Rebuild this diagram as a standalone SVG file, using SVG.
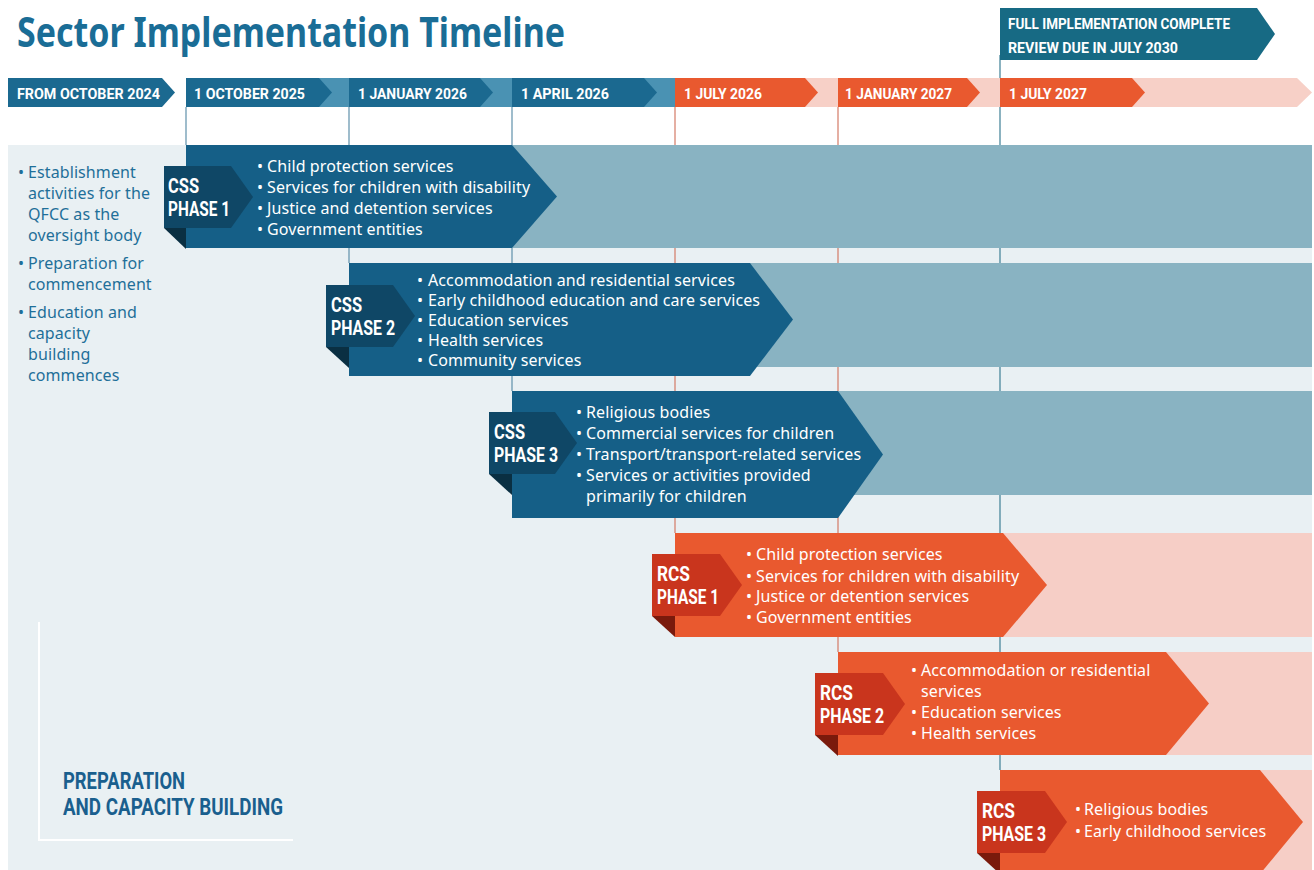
<svg xmlns="http://www.w3.org/2000/svg" width="1314" height="870" viewBox="0 0 1314 870">
<style>
.body{font-family:"Noto Sans","Open Sans",sans-serif;font-size:16px;letter-spacing:0.1px;fill:#ffffff}
.left{font-family:"Noto Sans","Open Sans",sans-serif;font-size:16px;letter-spacing:0.1px;fill:#1f6f99}
.cond{font-family:"Roboto","Liberation Sans",sans-serif;font-weight:700;fill:#ffffff}
.tl{font-size:15px}
.tag{font-size:20px}
.dk{fill:#155f87}
.lt{fill:#89b3c2}
.tagb{fill:#0f4766}
.foldb{fill:#0a2f42}
.or{fill:#e9592f}
.pk{fill:#f6cec6}
.tagr{fill:#c9351d}
.foldr{fill:#7a1a0c}
.vb{stroke:#5f90aa;stroke-width:1.2}
.vo{stroke:#d47a66;stroke-width:1.2}
</style>
<rect x="0" y="0" width="1314" height="870" fill="#ffffff"/>
<rect id="panel" x="8" y="145" width="1304" height="725" fill="#e9f0f3"/>

<g id="title">
<text x="17" y="47" font-family="'Noto Sans','Open Sans',sans-serif" font-weight="700" font-size="42" fill="#1a6d96" textLength="548" lengthAdjust="spacingAndGlyphs">Sector Implementation Timeline</text>
</g>

<g id="connectors">
<line class="vb" x1="186" y1="107" x2="186" y2="145"/>
<line class="vb" x1="349" y1="107" x2="349" y2="263"/>
<line class="vb" x1="512" y1="107" x2="512" y2="391"/>
<line class="vo" x1="675" y1="107" x2="675" y2="533"/>
<line class="vo" x1="838" y1="107" x2="838" y2="652"/>
<line x1="1000" y1="55" x2="1000" y2="770" stroke="#3d7f95" stroke-width="1.2"/>
</g>

<g id="timeline">
<polygon points="186,78 675,78 675,107 186,107" fill="#4a92b3"/>
<polygon points="675,78 1297,78 1312,92.5 1297,107 675,107" fill="#f7d0c7"/>
<polygon points="8,78 162,78 175,92.5 162,107 8,107" fill="#1b6990"/>
<polygon points="186,78 319,78 332,92.5 319,107 186,107" fill="#1b6990"/>
<polygon points="349,78 480,78 493,92.5 480,107 349,107" fill="#1b6990"/>
<polygon points="512,78 644,78 657,92.5 644,107 512,107" fill="#1b6990"/>
<polygon points="675,78 805,78 818,92.5 805,107 675,107" fill="#e9592f"/>
<polygon points="838,78 967,78 980,92.5 967,107 838,107" fill="#e9592f"/>
<polygon points="1000,78 1132,78 1145,92.5 1132,107 1000,107" fill="#e9592f"/>
<text class="cond tl" x="17" y="99" textLength="143" lengthAdjust="spacingAndGlyphs">FROM OCTOBER 2024</text>
<text class="cond tl" x="194" y="99" textLength="111" lengthAdjust="spacingAndGlyphs">1 OCTOBER 2025</text>
<text class="cond tl" x="358" y="99" textLength="109" lengthAdjust="spacingAndGlyphs">1 JANUARY 2026</text>
<text class="cond tl" x="521" y="99" textLength="88" lengthAdjust="spacingAndGlyphs">1 APRIL 2026</text>
<text class="cond tl" x="684" y="99" textLength="78" lengthAdjust="spacingAndGlyphs">1 JULY 2026</text>
<text class="cond tl" x="845" y="99" textLength="107" lengthAdjust="spacingAndGlyphs">1 JANUARY 2027</text>
<text class="cond tl" x="1009" y="99" textLength="78" lengthAdjust="spacingAndGlyphs">1 JULY 2027</text>
</g>

<g id="full-implementation">
<polygon points="1000,8 1257,8 1275,34 1257,60 1000,60" fill="#176a84"/>
<text class="cond tl" x="1008" y="29" textLength="222" lengthAdjust="spacingAndGlyphs">FULL IMPLEMENTATION COMPLETE</text>
<text class="cond tl" x="1008" y="53" textLength="170" lengthAdjust="spacingAndGlyphs">REVIEW DUE IN JULY 2030</text>
</g>

<g id="preparation">
<text class="left" x="18" y="178">•</text><text class="left" x="28" y="178">Establishment</text>
<text class="left" x="28" y="199">activities for the</text>
<text class="left" x="28" y="220">QFCC as the</text>
<text class="left" x="28" y="241">oversight body</text>
<text class="left" x="18" y="269">•</text><text class="left" x="28" y="269">Preparation for</text>
<text class="left" x="28" y="290">commencement</text>
<text class="left" x="18" y="318">•</text><text class="left" x="28" y="318">Education and</text>
<text class="left" x="28" y="339">capacity</text>
<text class="left" x="28" y="360">building</text>
<text class="left" x="28" y="381">commences</text>
<polyline points="39,622 39,840 293,840" fill="none" stroke="#ffffff" stroke-width="2"/>
<text x="63" y="789" font-family="Roboto,'Liberation Sans',sans-serif" font-weight="700" font-size="23" fill="#1a5f8e" textLength="122" lengthAdjust="spacingAndGlyphs">PREPARATION</text>
<text x="63" y="815" font-family="Roboto,'Liberation Sans',sans-serif" font-weight="700" font-size="23" fill="#1a5f8e" textLength="220" lengthAdjust="spacingAndGlyphs">AND CAPACITY BUILDING</text>
</g>

<g id="css-phase-1">
<rect class="lt" x="512" y="145" width="800" height="103"/>
<polygon class="dk" points="186,145 512,145 557,196.5 512,248 186,248"/>
<polygon class="tagb" points="164,166 231,166 253,197 231,228 164,228"/>
<polygon class="foldb" points="164,228 186,228 186,249"/>
<text class="cond tag" x="168" y="193" textLength="31" lengthAdjust="spacingAndGlyphs">CSS</text>
<text class="cond tag" x="168" y="216" textLength="62" lengthAdjust="spacingAndGlyphs">PHASE 1</text>
<text class="body" x="257" y="172">•</text><text class="body" x="267" y="172">Child protection services</text>
<text class="body" x="257" y="193">•</text><text class="body" x="267" y="193">Services for children with disability</text>
<text class="body" x="257" y="214">•</text><text class="body" x="267" y="214">Justice and detention services</text>
<text class="body" x="257" y="235">•</text><text class="body" x="267" y="235">Government entities</text>
</g>

<g id="css-phase-2">
<rect class="lt" x="750" y="263" width="562" height="104"/>
<polygon class="dk" points="349,263 750,263 793,319.5 750,376 349,376"/>
<polygon class="tagb" points="326,285 393,285 415,316 393,347 326,347"/>
<polygon class="foldb" points="326,347 349,347 349,368"/>
<text class="cond tag" x="331" y="312" textLength="31" lengthAdjust="spacingAndGlyphs">CSS</text>
<text class="cond tag" x="331" y="335" textLength="64" lengthAdjust="spacingAndGlyphs">PHASE 2</text>
<text class="body" x="417" y="286">•</text><text class="body" x="428" y="286">Accommodation and residential services</text>
<text class="body" x="417" y="306">•</text><text class="body" x="428" y="306">Early childhood education and care services</text>
<text class="body" x="417" y="326">•</text><text class="body" x="428" y="326">Education services</text>
<text class="body" x="417" y="346">•</text><text class="body" x="428" y="346">Health services</text>
<text class="body" x="417" y="366">•</text><text class="body" x="428" y="366">Community services</text>
</g>

<g id="css-phase-3">
<rect class="lt" x="838" y="391" width="474" height="104"/>
<polygon class="dk" points="512,391 838,391 883,454.5 838,518 512,518"/>
<polygon class="tagb" points="489,412 555,412 577,443 555,474 489,474"/>
<polygon class="foldb" points="489,474 512,474 512,495"/>
<text class="cond tag" x="494" y="439" textLength="31" lengthAdjust="spacingAndGlyphs">CSS</text>
<text class="cond tag" x="494" y="462" textLength="64" lengthAdjust="spacingAndGlyphs">PHASE 3</text>
<text class="body" x="576" y="418">•</text><text class="body" x="586" y="418">Religious bodies</text>
<text class="body" x="576" y="439">•</text><text class="body" x="586" y="439">Commercial services for children</text>
<text class="body" x="576" y="460">•</text><text class="body" x="586" y="460">Transport/transport-related services</text>
<text class="body" x="576" y="481">•</text><text class="body" x="586" y="481">Services or activities provided</text>
<text class="body" x="586" y="502">primarily for children</text>
</g>

<g id="rcs-phase-1">
<rect class="pk" x="1003" y="533" width="309" height="104"/>
<polygon class="or" points="675,533 1003,533 1047,585 1003,637 675,637"/>
<polygon class="tagr" points="652,554 720,554 742,585 720,616 652,616"/>
<polygon class="foldr" points="652,616 675,616 675,637"/>
<text class="cond tag" x="657" y="581" textLength="33" lengthAdjust="spacingAndGlyphs">RCS</text>
<text class="cond tag" x="657" y="604" textLength="62" lengthAdjust="spacingAndGlyphs">PHASE 1</text>
<text class="body" x="746" y="560">•</text><text class="body" x="756" y="560">Child protection services</text>
<text class="body" x="746" y="582">•</text><text class="body" x="756" y="582">Services for children with disability</text>
<text class="body" x="746" y="602">•</text><text class="body" x="756" y="602">Justice or detention services</text>
<text class="body" x="746" y="623">•</text><text class="body" x="756" y="623">Government entities</text>
</g>

<g id="rcs-phase-2">
<rect class="pk" x="1166" y="652" width="146" height="103"/>
<polygon class="or" points="838,652 1166,652 1209,703.5 1166,755 838,755"/>
<polygon class="tagr" points="815,673 883,673 905,704 883,735 815,735"/>
<polygon class="foldr" points="815,735 838,735 838,756"/>
<text class="cond tag" x="820" y="700" textLength="33" lengthAdjust="spacingAndGlyphs">RCS</text>
<text class="cond tag" x="820" y="723" textLength="64" lengthAdjust="spacingAndGlyphs">PHASE 2</text>
<text class="body" x="911" y="676">•</text><text class="body" x="921" y="676">Accommodation or residential</text>
<text class="body" x="921" y="697">services</text>
<text class="body" x="911" y="718">•</text><text class="body" x="921" y="718">Education services</text>
<text class="body" x="911" y="739">•</text><text class="body" x="921" y="739">Health services</text>
</g>

<g id="rcs-phase-3">
<rect class="pk" x="1260" y="770" width="52" height="100"/>
<polygon class="or" points="1000,770 1260,770 1303,822 1260,874 1000,874"/>
<polygon class="tagr" points="977,791 1045,791 1067,822 1045,853 977,853"/>
<polygon class="foldr" points="977,853 1000,853 1000,874"/>
<text class="cond tag" x="982" y="818" textLength="33" lengthAdjust="spacingAndGlyphs">RCS</text>
<text class="cond tag" x="982" y="841" textLength="64" lengthAdjust="spacingAndGlyphs">PHASE 3</text>
<text class="body" x="1075" y="815">•</text><text class="body" x="1084" y="815">Religious bodies</text>
<text class="body" x="1075" y="837">•</text><text class="body" x="1084" y="837">Early childhood services</text>
</g>
</svg>
